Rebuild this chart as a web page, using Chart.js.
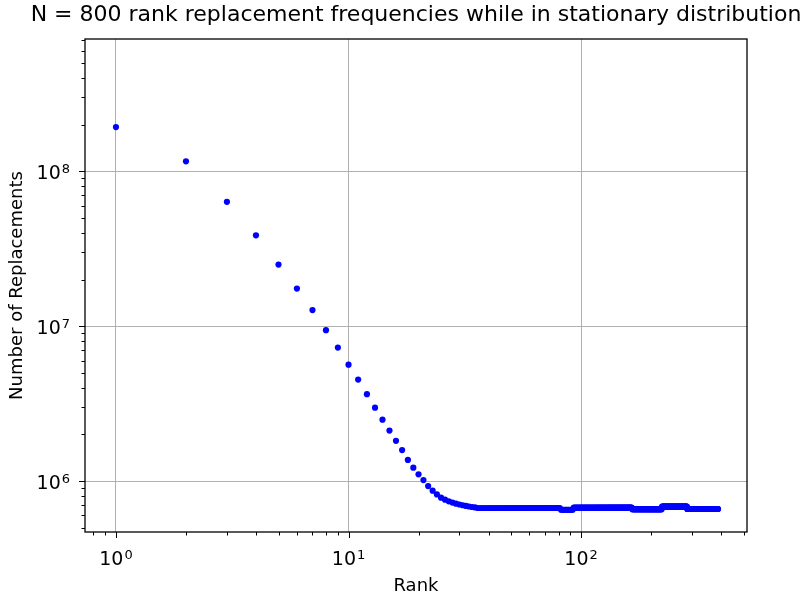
<!DOCTYPE html>
<html>
<head>
<meta charset="utf-8">
<script src="https://cdn.jsdelivr.net/npm/chart.js@4.4.1/dist/chart.umd.min.js"></script>
<style>
    html, body { margin: 0; padding: 0; background: #fff; }
    #wrap { width: 806px; height: 597px; }
</style>
</head>
<body>
<div id="wrap"><canvas id="rankChart" width="806" height="597"></canvas></div>
<script>
// Values
// ranks 1..35, one value each
const headValues = [
    1.93e8, 1.16e8, 6.35e7, 3.86e7, 2.50e7, 1.75e7, 1.27e7, 9.42e6, 7.28e6, 5.64e6,
    4.52e6, 3.64e6, 2.98e6, 2.49e6, 2.12e6, 1.82e6, 1.585e6, 1.37e6, 1.22e6, 1.105e6,
    1.015e6, 9.28e5, 8.67e5, 8.20e5, 7.81e5, 7.58e5, 7.40e5, 7.26e5, 7.15e5, 7.06e5,
    6.98e5, 6.91e5, 6.85e5, 6.80e5, 6.76e5
];
// flat tail after rank 35: level held up to (and including) each end rank
const tailEndRanks = [81, 92, 165, 222, 285, 388];
const tailLevels = [6.70e5, 6.53e5, 6.73e5, 6.58e5, 6.83e5, 6.60e5];

const xTickValues = [1, 10, 100];
const yTickValues = [1e6, 1e7, 1e8];

const titleText = 'N = 800 rank replacement frequencies while in stationary distribution';

// build the point table
const points = headValues.map((v, i) => ({ x: i + 1, y: v }));
let rank = headValues.length + 1;
tailEndRanks.forEach((end, k) => {
    for (; rank <= end; rank++) points.push({ x: rank, y: tailLevels[k] });
});

const FONT = "'DejaVu Sans', sans-serif";
const BASE_FONT = '19px ' + FONT;
const EXP_FONT = '13px ' + FONT;

function isMajor(v) {
    const l = Math.log10(v);
    return Math.abs(l - Math.round(l)) < 1e-9;
}

// draws "10" with a raised exponent; anchor 'center' or 'right'
function drawPow(ctx, v, x, baseline, anchor) {
    const e = String(Math.round(Math.log10(v)));
    ctx.font = BASE_FONT;
    const w1 = ctx.measureText('10').width;
    ctx.font = EXP_FONT;
    const w2 = ctx.measureText(e).width;
    const total = w1 + 1 + w2;
    const x0 = anchor === 'right' ? x - total : x - total / 2;
    ctx.textAlign = 'left';
    ctx.textBaseline = 'alphabetic';
    ctx.font = BASE_FONT;
    ctx.fillText('10', x0, baseline);
    ctx.font = EXP_FONT;
    ctx.fillText(e, x0 + w1 + 1, baseline - 6);
}

// box, minor/major tick marks, tick labels and title, matplotlib-like
const frame = {
    id: 'frame',
    afterDraw(chart) {
        const { ctx, chartArea: a, scales } = chart;
        ctx.save();
        ctx.strokeStyle = '#000';
        ctx.lineWidth = 1;
        ctx.beginPath();
        // x ticks
        for (let e = -1; e <= 3; e++) {
            for (let m = 1; m <= 9; m++) {
                const v = m * Math.pow(10, e);
                if (v < scales.x.min || v > scales.x.max) continue;
                const px = Math.round(scales.x.getPixelForValue(v)) + 0.5;
                const len = m === 1 ? 6 : 3.5;
                ctx.moveTo(px, a.bottom);
                ctx.lineTo(px, a.bottom + len);
            }
        }
        // y ticks
        for (let e = 5; e <= 9; e++) {
            for (let m = 1; m <= 9; m++) {
                const v = m * Math.pow(10, e);
                if (v < scales.y.min || v > scales.y.max) continue;
                const py = Math.round(scales.y.getPixelForValue(v)) + 0.5;
                const len = m === 1 ? 6 : 3.5;
                ctx.moveTo(a.left, py);
                ctx.lineTo(a.left - len, py);
            }
        }
        ctx.stroke();
        ctx.lineWidth = 1.3;
        ctx.strokeRect(a.left, a.top, a.right - a.left, a.bottom - a.top);

        ctx.fillStyle = '#000';
        xTickValues.forEach(v => {
            drawPow(ctx, v, scales.x.getPixelForValue(v), a.bottom + 33, 'center');
        });
        yTickValues.forEach(v => {
            drawPow(ctx, v, a.left - 15, scales.y.getPixelForValue(v) + 8, 'right');
        });

        ctx.font = '22px ' + FONT;
        ctx.textAlign = 'center';
        ctx.textBaseline = 'alphabetic';
        ctx.fillText(titleText, (a.left + a.right) / 2, 21);
        ctx.restore();
    }
};

new Chart(document.getElementById('rankChart').getContext('2d'), {
    type: 'scatter',
    data: {
        datasets: [{
            data: points,
            backgroundColor: '#0000ff',
            borderWidth: 0,
            pointRadius: 3.1,
            pointHoverRadius: 3.1
        }]
    },
    options: {
        responsive: false,
        animation: false,
        layout: { padding: { top: 39, right: 59, left: 0, bottom: 0 } },
        plugins: {
            legend: { display: false },
            tooltip: { enabled: false }
        },
        scales: {
            x: {
                type: 'logarithmic',
                bounds: 'data',
                min: 0.736,
                max: 517,
                border: { display: false },
                grid: {
                    drawTicks: false,
                    color: c => (c.tick && isMajor(c.tick.value)) ? '#b0b0b0' : 'rgba(0,0,0,0)',
                    lineWidth: 1
                },
                ticks: {
                    autoSkip: false,
                    maxRotation: 0,
                    font: { family: FONT, size: 12 },
                    callback: () => ''
                },
                title: {
                    display: true,
                    text: 'Rank',
                    color: '#000',
                    font: { family: FONT, size: 18 },
                    padding: { top: 0, bottom: 0 }
                },
                afterFit: s => { s.height = 65; }
            },
            y: {
                type: 'logarithmic',
                bounds: 'data',
                min: 4.69e5,
                max: 7.15e8,
                border: { display: false },
                grid: {
                    drawTicks: false,
                    color: c => (c.tick && isMajor(c.tick.value)) ? '#b0b0b0' : 'rgba(0,0,0,0)',
                    lineWidth: 1
                },
                ticks: {
                    autoSkip: false,
                    font: { family: FONT, size: 12 },
                    callback: () => ''
                },
                title: {
                    display: true,
                    text: 'Number of Replacements',
                    color: '#000',
                    font: { family: FONT, size: 18 },
                    padding: { top: 7, bottom: 0 }
                },
                afterFit: s => { s.width = 85; }
            }
        }
    },
    plugins: [frame]
});
</script>
</body>
</html>
